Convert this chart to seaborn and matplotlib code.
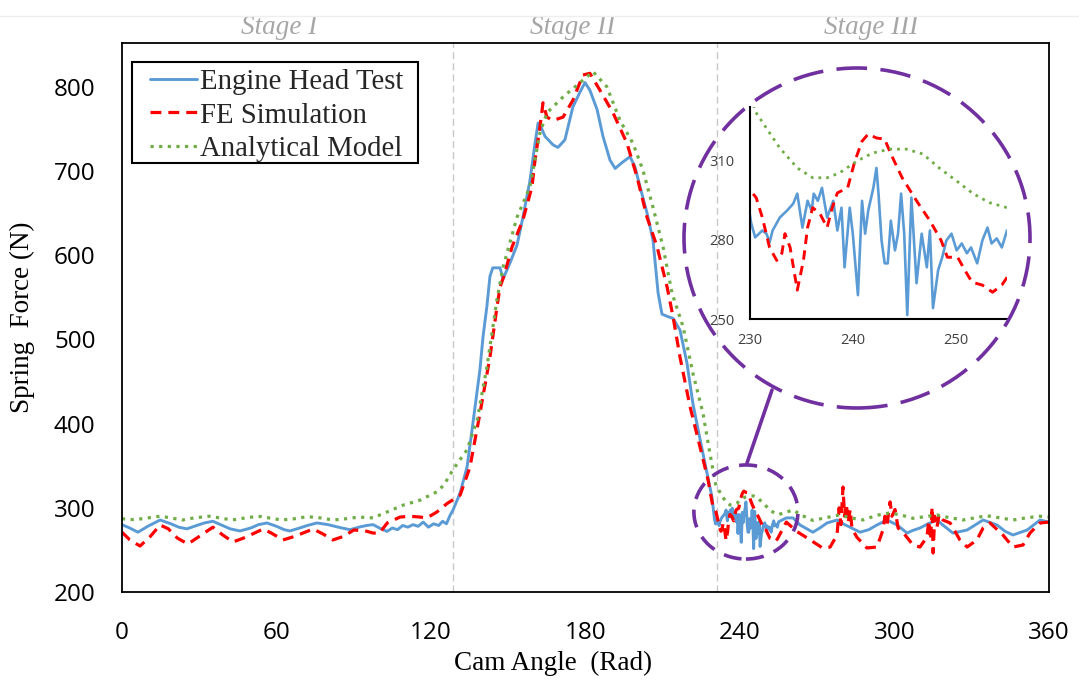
import matplotlib
matplotlib.use("Agg")
import matplotlib.pyplot as plt
import matplotlib.transforms as mtransforms
from matplotlib.patches import Ellipse, Rectangle
from matplotlib.lines import Line2D
import seaborn as sns

# ---------------- data ----------------
test_angle = [0, 3, 6.2, 10, 14.8, 19, 22, 25.2, 29, 32, 35.3, 39, 42, 45.8, 50, 53, 56.3, 60, 63, 65.2,
              69, 72, 75.7, 80, 84, 88.5, 92, 95, 97.5, 100, 102.9, 105, 107, 109, 111, 113, 115, 117, 119,
              121, 123, 124.5, 126, 127.4, 128.5, 131.3, 134, 136.3, 139, 140.2, 141.7, 142.9, 144, 146.8,
              148, 150.7, 153.4, 155.7, 158.4, 160.4, 161.6, 162.3, 164.3, 167.4, 169.3, 172, 175.1, 177.9,
              179.8, 181.7, 184.5, 186.8, 189.5, 191.5, 194.2, 197.3, 199.2, 201.2, 203.9, 206.2, 208.2,
              209.7, 212, 214, 216.7, 219.4, 221.7, 224.5, 227.2, 229.1,
              230.1, 230.5, 231.2, 231.6, 231.9, 232.2, 232.9, 233.6, 234.2, 234.6, 235.1, 235.6, 236.0,
              236.2, 236.6, 237.0, 237.5, 238.1, 238.5, 238.9, 239.2, 239.7, 240.0, 240.5, 240.9, 241.2,
              241.5, 242.0, 242.3, 242.5, 242.8, 243.1, 243.4, 243.7, 244.1, 244.4, 244.7, 245.0, 245.3,
              245.7, 246.2, 246.7, 247.2, 247.5, 247.8, 248.3, 248.7, 249.1, 249.6, 250.1, 250.6, 251.1,
              251.5, 252.1, 252.6, 253.1, 253.5, 254.0, 254.5, 255.0,
              258, 260.6, 263.3, 268.3, 271, 273.8, 277.7, 280, 282.7, 286.6, 290, 293.2, 297.1, 301,
              304.9, 307, 309.9, 313, 316.5, 319, 322.7, 328.2, 331, 334.4, 339.8, 343, 346, 351.5,
              356.5, 360]
test_force = [280, 276, 271, 278, 285.5, 281, 277, 275, 279, 282, 284, 279, 275, 272.5, 276, 280, 282, 278, 274, 272.5,
              276, 279, 282, 280, 277, 274, 277, 279, 280, 276, 272, 276, 274, 279, 277, 280, 278, 283, 277,
              281, 279, 284, 281, 291, 297, 317.6, 348.5, 401, 464, 503, 539, 575, 585, 585,
              572, 591, 612, 645, 688, 733, 757, 755, 741, 731, 728, 737, 776, 794,
              805, 796, 773, 741, 713, 703, 710, 717, 705, 681, 650, 618, 555,
              530, 527, 525, 511, 472, 424, 381, 341, 313,
              286.4, 280.8, 283.4, 282.2, 278.9, 283.4, 288.3, 290.9, 293.5, 297.3, 284.5, 294.6, 290.9,
              297.3, 294.6, 299.5, 288.3, 294.6, 283.4, 292.0, 269.5, 292.0, 282.2, 259.0, 294.6, 282.2,
              290.9, 299.5, 307.0, 297.3, 279.6, 271.0, 271.0, 287.1, 275.9, 282.2, 297.3, 282.2, 251.5,
              295.8, 263.5, 282.2, 269.5, 283.4, 254.1, 268.4, 273.3, 279.6, 282.2, 275.9, 278.5, 274.8,
              277.0, 271.0, 279.6, 284.5, 278.5, 280.4, 277.0, 283.4,
              288, 288, 279.6, 271, 276, 282, 285.5, 281, 277, 271, 274, 279.6, 285.5, 279.6,
              270, 273, 276, 281, 285.5, 279, 270, 273.6, 279, 285.5, 279.6, 272, 267.7, 273.6,
              285.5, 283]

fe_angle = [0, 3, 7, 11, 14.8, 18, 21.5, 25.6, 30, 35.3, 39, 43.1, 48, 54.8, 58, 62.5, 67, 74.2, 78, 81.9,
            86, 90, 94, 97.5, 100, 103, 108, 111.8, 115.7, 118.4, 122.3, 126.2, 131.3, 135.1, 139, 142.9,
            145.6, 146.8, 148.3, 151.5, 155.7, 159.2, 160.4, 162.3, 163.5, 165, 167.4, 171.3, 175.1, 179,
            181.7, 185.6, 190.7, 196.1, 200, 203.9, 207.8, 211.7, 214, 216.7, 220.6, 224.5, 227.6, 229.5,
            230.6, 231.2, 231.9, 232.6, 233.1, 233.4, 233.9, 234.6, 235.2, 235.6, 236.1, 236.8, 237.5,
            238.0, 238.5, 239.5, 240.2, 240.9, 241.5, 242.3, 243.1, 243.7, 244.8, 246.2, 247.5, 248.6,
            249.2, 250.2, 250.9, 251.6, 252.6, 253.6, 254.5,
            258, 262, 267.2, 272.2, 275, 277.7, 278.5, 279.2, 280, 280.6, 281.3, 282, 282.8, 283.5,
            285.4, 289.3, 293.2, 295.5, 296.3, 297.1, 298.3, 299, 300.2, 301.4, 304.1, 307.2, 309.9,
            312.6, 313.3, 314, 314.6, 315, 315.6, 316.5, 317.3, 318.8, 321.6, 325.4, 328.2, 332, 334.4,
            337.1, 342.1, 346, 349.9, 352.6, 356.5, 360]
fe_force = [271, 262, 254.6, 266, 279.6, 275, 264, 257, 266, 277, 268, 259.4, 265, 274.8, 270, 261.8, 266, 274.8, 269, 261.8,
            266, 273.6, 273, 270, 270, 282, 289, 290, 289, 288, 295, 305, 315, 348, 412, 479,
            538, 562, 575, 610, 642, 681, 713, 752, 781, 764, 760, 764, 784, 814,
            816, 796, 769, 733, 693, 645, 610, 562, 527, 479, 420, 372, 333, 301,
            295.8, 288.3, 277.0, 272.1, 274.8, 282.2, 277.0, 260.9, 272.1, 284.5, 292.0, 289.8, 284.5,
            292.0, 297.6, 299.5, 309.6, 317.1, 319.8, 318.3, 317.9, 312.3, 303.3, 294.6, 287.1, 279.6,
            273.3, 273.3, 268.4, 263.9, 262.8, 260.1, 262.8,
            283, 272, 262, 252, 253.4, 267.7, 300, 280, 324.7, 290, 305, 282, 298, 275,
            265, 252.3, 253.4, 273.6, 290, 280, 307, 290, 298, 276, 267.7, 255.8, 253.4,
            265.3, 285, 262, 301, 246.3, 290, 277, 292, 285.5, 282, 261.8, 253.4, 261.8, 276,
            282, 267.7, 253.4, 255.8, 270, 282, 283]

model_angle = [0, 4, 8, 14.8, 19, 23.5, 28, 33.9, 38, 42.7, 48, 53, 57, 62, 67, 72, 77, 82, 87, 92, 97.5,
               102.9, 109, 115.7, 122.3, 125, 128.5, 134, 137.9, 141.7, 145.6, 148, 153.4, 158.4, 162.3,
               165, 171.3, 177.9, 182.9, 188.3, 193.4, 198.4, 202.3, 206.2, 210.1, 213.6, 217.9, 221.7,
               225.6, 228.3,
               230.5, 231.6, 232.9, 234.6, 236.1, 237.5, 238.7, 240.4, 241.9, 243.6, 245.2, 246.8, 248.4,
               250.1, 251.7, 253.3, 255.0,
               260.6, 264, 268.3, 273, 278.8, 283, 287.8, 293, 298.3, 303, 307.2, 312, 316.5, 321, 326.6,
               331, 335.9, 341, 346, 351, 356.5, 360]
model_force = [287, 286, 287, 290, 288, 285.5, 288, 290, 288, 285.5, 288, 290, 288, 285.5, 287, 289.5, 288, 285.5, 287, 289, 288,
               295, 303, 309, 319, 327, 345, 369, 404, 467, 547, 586, 645, 681, 745,
               769, 788, 805, 818, 800, 760, 733, 701, 657, 610, 555, 515, 460,
               412.6, 365,
               328.4, 322.0, 314.5, 307.0, 303.3, 303.3, 305.1, 309.6, 312.6, 314.1, 314.1, 312.3, 307.0,
               302.1, 297.3, 293.9, 292.0,
               297.4, 291, 285, 288, 291.5, 288, 285.5, 291, 294, 291, 287.5, 289.5, 291.5, 288.5, 285.5,
               288, 290.5, 288, 285.5, 288, 290, 289]

series_labels = ["Engine Head Test", "FE Simulation", "Analytical Model"]
stage_names = ["Stage I", "Stage II", "Stage III"]
stage_centers = [61, 175, 291]
stage_bounds = [128.5, 231.1]
x_ticks = [0, 60, 120, 180, 240, 300, 360]
y_ticks = [200, 300, 400, 500, 600, 700, 800]
inset_x_ticks = [230, 240, 250]
inset_y_ticks = [250, 280, 310]

# ---------------- style ----------------
sns.set_theme(style="white")
plt.rcParams["font.family"] = ["Open Sans", "DejaVu Sans"]
SERIF = ["Liberation Serif", "DejaVu Serif"]

BLUE = "#5B9BD5"
RED = "#FF0000"
GREEN = "#70AD47"
PURPLE = "#7030A0"

W, H = 1079, 684
fig = plt.figure(figsize=(W / 100, H / 100), dpi=100)
fig.patch.set_facecolor("white")

ax = fig.add_axes([122 / W, 92 / H, 927 / W, 549 / H])


def draw(axis, x, y, color, lw, dashes=None):
    sns.lineplot(x=x, y=y, ax=axis, color=color, linewidth=lw,
                 estimator=None, sort=False, legend=False)
    line = axis.lines[-1]
    if dashes is not None:
        line.set_dashes(dashes)
        line.set_dash_capstyle("butt")
    line.set_solid_joinstyle("round")
    return line


# stage dividers
for xv in stage_bounds:
    ax.axvline(xv, color="#C8C8C8", lw=1.0, ls=(0, (5, 3)), zorder=0.5)

l_test = draw(ax, test_angle, test_force, BLUE, 2.1)
l_fe = draw(ax, fe_angle, fe_force, RED, 2.3, (3.4, 2.2))
l_model = draw(ax, model_angle, model_force, GREEN, 2.3, (1.0, 1.7))

ax.set_xlim(0, 360)
ax.set_ylim(200, 852)
ax.set_xticks(x_ticks)
ax.set_yticks(y_ticks)
ax.tick_params(axis="x", length=0, pad=21, labelsize=17.5, labelcolor="black")
ax.tick_params(axis="y", length=0, pad=19, labelsize=17.5, labelcolor="black")
for s in ax.spines.values():
    s.set_visible(True)
    s.set_color("black")
    s.set_linewidth(1.3)

ax.set_xlabel("Cam Angle  (Rad)", family=SERIF, fontsize=19.5, color="black")
ax.set_ylabel("Spring  Force (N)", family=SERIF, fontsize=19.5, color="black")
ax.xaxis.set_label_coords(0.465, -0.108)
ax.yaxis.set_label_coords(-0.094, 0.5)

# legend entries (frameless) with a separate square box around them
leg = ax.legend(handles=[l_test, l_fe, l_model], labels=series_labels,
                loc="upper left", bbox_to_anchor=(0.0302, 0.9525), borderaxespad=0,
                prop={"family": SERIF, "size": 20.7}, frameon=False,
                handlelength=1.65, handletextpad=0.1, labelspacing=0.25, borderpad=0)
fig.add_artist(Rectangle((132 / W, 1 - 163 / H), 286 / W, 101 / H, transform=fig.transFigure,
                         fill=False, edgecolor="black", lw=1.5, zorder=6))

# stage titles above the axes
trans = mtransforms.blended_transform_factory(ax.transData, ax.transAxes)
for name, xc in zip(stage_names, stage_centers):
    ax.text(xc, 1.029, name, transform=trans, ha="center", va="center",
            family=SERIF, fontstyle="italic", fontsize=19.5, color="#A6A6A6")

fig.add_artist(Line2D([0, 1], [1 - 16 / H, 1 - 16 / H], transform=fig.transFigure,
                      color="#EEEEEE", lw=1))

# ---------------- zoomed inset ----------------
axi = fig.add_axes([750 / W, (H - 319) / H, 257 / W, 212 / H])
axi.set_facecolor("none")
draw(axi, test_angle, test_force, BLUE, 1.9)
draw(axi, fe_angle, fe_force, RED, 2.1, (3.2, 2.2))
draw(axi, model_angle, model_force, GREEN, 2.0, (1.0, 1.8))
axi.set_xlim(230, 255)
axi.set_ylim(250, 330)
axi.set_xticks(inset_x_ticks)
axi.set_yticks(inset_y_ticks)
axi.tick_params(length=0, labelsize=10.5, labelcolor="#404040")
axi.tick_params(axis="y", pad=11)
axi.tick_params(axis="x", pad=10)
axi.set_xlabel("")
axi.set_ylabel("")
for side in ["top", "right"]:
    axi.spines[side].set_visible(False)
for side in ["left", "bottom"]:
    axi.spines[side].set_color("black")
    axi.spines[side].set_linewidth(1.5)

# ---------------- magnifier circles ----------------
big = Ellipse((857 / W, 1 - 238 / H), 346 / W, 340 / H, transform=fig.transFigure,
              fill=False, edgecolor=PURPLE, lw=2.6, linestyle=(0, (8.5, 3.7)))
fig.add_artist(big)
small = Ellipse((242.3, 295), 40.4, 111.7, transform=ax.transData, fill=False,
                edgecolor=PURPLE, lw=2.6, linestyle=(0, (5.0, 3.0)), clip_on=False, zorder=5)
ax.add_patch(small)
fig.add_artist(Line2D([747 / W, 772 / W], [1 - 463 / H, 1 - 390 / H], transform=fig.transFigure,
                      color=PURPLE, lw=2.6))

fig.savefig("out.png", dpi=100, facecolor="white")
